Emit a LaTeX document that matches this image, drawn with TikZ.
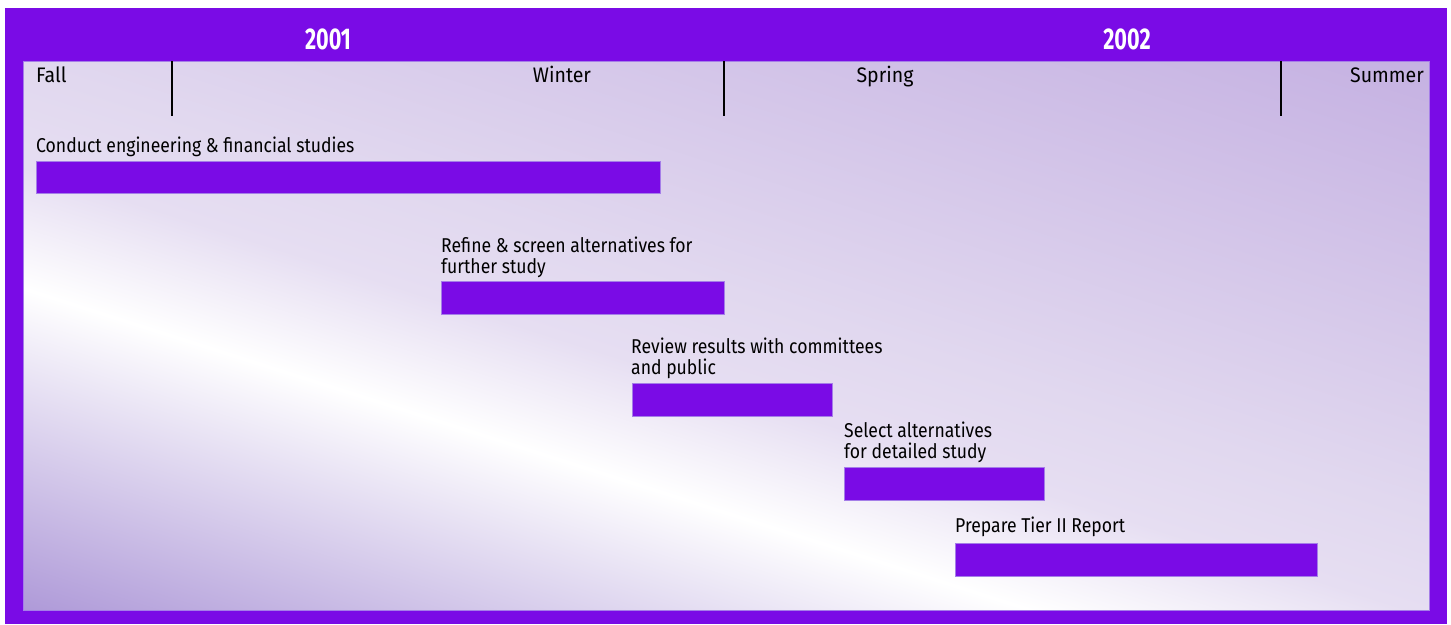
\documentclass[tikz,border=0pt]{standalone}
\usepackage{fontspec}
\setmainfont{Fira Sans}[FakeStretch=0.88]
\newfontfamily\seasonfont{Fira Sans}[FakeStretch=0.93]
\newfontfamily\yearfont{Fira Sans}[FakeStretch=0.72]
\usetikzlibrary{positioning}
\definecolor{framepurple}{HTML}{7A0BE6}
\definecolor{edgepurple}{HTML}{A57EE8}
\definecolor{lavdark}{HTML}{AA94D6}
\definecolor{lavdeep}{HTML}{9A80C8}
\definecolor{lavlight}{HTML}{E6DEF2}
\definecolor{lavtl}{HTML}{E1D8EF}
\definecolor{lavtr}{HTML}{C5B1E2}
\pgfdeclareverticalshading{lavgrad}{100bp}{%
  color(0bp)=(lavdeep); color(34bp)=(lavdark); color(44.6bp)=(white);
  color(48.4bp)=(lavlight); color(51.6bp)=(lavtl); color(65.7bp)=(lavtr);
  color(100bp)=(lavtr)}
\tikzset{
  bar/.style = {draw=edgepurple, line width=0.8pt, fill=framepurple, inner sep=0pt, anchor=north west},
  task/.style = {font=\fontsize{20}{21}\selectfont, align=left, inner sep=0pt, anchor=base west},
  season/.style = {font=\seasonfont\fontsize{21}{22}\selectfont, inner sep=0pt},
  yearlabel/.style = {font=\yearfont\bfseries\fontsize{30}{30}\selectfont, text=white, inner sep=0pt, anchor=base},
  divider/.style = {line width=2pt}
}

\begin{document}
\begin{tikzpicture}[x=1pt, y=-1pt]

  \useasboundingbox (0,0) rectangle (1451,624);

  %% Schedule 2001 - 2002

  % Frame
  \fill[framepurple] (5,8) rectangle (1447,624);
  \begin{scope}
    \clip (23,61) rectangle (1429,610);
    \shade[shading=lavgrad, shading angle=-17.7] (-34,-420) rectangle (1486,1100);
  \end{scope}
  \draw[edgepurple, line width=0.8pt] (23,61) rectangle (1429,610);

  % Years
  \node[yearlabel] (y2001) at (328,49) {2001};
  \node[yearlabel] (y2002) at (1127,49) {2002};

  % Seasons
  \node[season, anchor=base west] (fall) at (36,82) {Fall};
  \node[season, anchor=base] (winter) at (562,82) {Winter};
  \node[season, anchor=base] (spring) at (885,82) {Spring};
  \node[season, anchor=base east] (summer) at (1424,82) {Summer};
  \draw[divider] (172,61) -- (172,116);
  \draw[divider] (724,61) -- (724,116);
  \draw[divider] (1281,61) -- (1281,116);

  % Tasks (base = last line)
  \node[task] (t1) at (36,152) {Conduct engineering \& financial studies};
  \node[bar, minimum width=624, minimum height=32] (b1) at (36,161) {};

  \node[task] (t2) at (441,273) {Refine \& screen alternatives for\\further study};
  \node[bar, minimum width=283, minimum height=33] (b2) at (441,281) {};

  \node[task] (t3) at (631,374) {Review results with committees\\and public};
  \node[bar, minimum width=200, minimum height=33] (b3) at (632,383) {};

  \node[task] (t4) at (844,458) {Select alternatives\\for detailed study};
  \node[bar, minimum width=200, minimum height=33] (b4) at (844,467) {};

  \node[task] (t5) at (955,532) {Prepare Tier II Report};
  \node[bar, minimum width=362, minimum height=33] (b5) at (955,543) {};

\end{tikzpicture}
\end{document}
